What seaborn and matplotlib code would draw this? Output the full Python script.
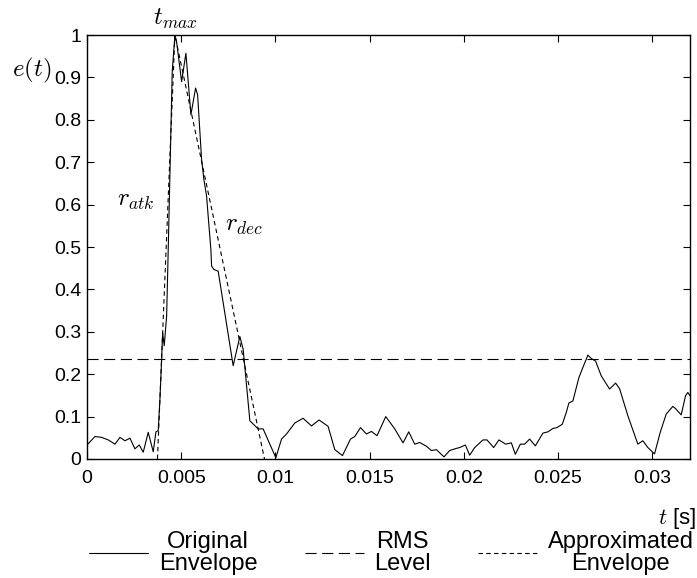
import numpy as np
import pandas as pd
import seaborn as sns
import matplotlib.pyplot as plt

# original envelope
t_env = [0.0, 0.000424, 0.000779, 0.001129, 0.001485, 0.00175, 0.002015, 0.00228,
         0.002545, 0.002773, 0.002985, 0.00325, 0.003515, 0.003659, 0.00378, 0.003871,
         0.003961, 0.004014, 0.004099, 0.004226, 0.004311, 0.004438, 0.004523, 0.004666,
         0.004756, 0.005021, 0.005249, 0.005514, 0.005763, 0.00587, 0.006082, 0.006204,
         0.006347, 0.006432, 0.006575, 0.006612, 0.006734, 0.006962, 0.007757, 0.008112,
         0.008287, 0.008643, 0.009083, 0.009348, 0.009703, 0.010021, 0.010323, 0.010589,
         0.011029, 0.011469, 0.011914, 0.012317, 0.012794, 0.013149, 0.013558, 0.013982,
         0.01421, 0.014512, 0.01483, 0.015095, 0.015392, 0.015854, 0.016331, 0.016771,
         0.017073, 0.017391, 0.017656, 0.018011, 0.018277, 0.018542, 0.018945, 0.019247,
         0.019602, 0.019777, 0.020079, 0.020307, 0.020573, 0.021013, 0.021225, 0.02158,
         0.021861, 0.022216, 0.022519, 0.02273, 0.022996, 0.023224, 0.023489, 0.023791,
         0.024194, 0.024459, 0.024724, 0.024936, 0.025223, 0.025435, 0.025572, 0.025785,
         0.026103, 0.026315, 0.02658, 0.02676, 0.026988, 0.02729, 0.02773, 0.028049,
         0.028261, 0.028701, 0.029231, 0.029496, 0.029762, 0.030117, 0.030419, 0.030737,
         0.031087, 0.03123, 0.031532, 0.03176, 0.031882, 0.032062]
e_env = [0.033, 0.053, 0.051, 0.045, 0.035, 0.051, 0.043, 0.049,
         0.024, 0.033, 0.016, 0.063, 0.017, 0.064, 0.067, 0.141,
         0.235, 0.298, 0.267, 0.337, 0.494, 0.745, 0.914, 1.0,
         0.984, 0.890, 0.957, 0.812, 0.875, 0.859, 0.706, 0.659,
         0.620, 0.572, 0.494, 0.455, 0.447, 0.443, 0.220, 0.289,
         0.259, 0.090, 0.071, 0.071, 0.035, 0.003, 0.047, 0.059,
         0.085, 0.096, 0.078, 0.092, 0.077, 0.022, 0.008, 0.047,
         0.053, 0.074, 0.059, 0.065, 0.055, 0.100, 0.071, 0.038,
         0.064, 0.035, 0.039, 0.030, 0.020, 0.022, 0.005, 0.020,
         0.025, 0.027, 0.033, 0.009, 0.027, 0.045, 0.045, 0.027,
         0.045, 0.035, 0.038, 0.011, 0.035, 0.035, 0.047, 0.031,
         0.061, 0.064, 0.072, 0.074, 0.082, 0.110, 0.132, 0.137,
         0.192, 0.216, 0.245, 0.237, 0.231, 0.196, 0.165, 0.179,
         0.166, 0.102, 0.035, 0.043, 0.027, 0.012, 0.063, 0.106,
         0.124, 0.119, 0.104, 0.149, 0.157, 0.145]

# rms level and triangle approximation
rms_level = 0.237
t_approx = [0.00374, 0.004666, 0.00942]
e_approx = [0.0, 1.0, 0.0]

x_ticks = [0, 0.005, 0.01, 0.015, 0.02, 0.025, 0.03]
x_labels = ["0", "0.005", "0.01", "0.015", "0.02", "0.025", "0.03"]
y_ticks = [0, 0.1, 0.2, 0.3, 0.4, 0.5, 0.6, 0.7, 0.8, 0.9, 1]
y_labels = ["0", "0.1", "0.2", "0.3", "0.4", "0.5", "0.6", "0.7", "0.8", "0.9", "1"]

sns.set_style("ticks")
plt.rcParams['font.family'] = ['Liberation Sans', 'DejaVu Sans']
plt.rcParams['mathtext.fontset'] = 'cm'
plt.rcParams['text.color'] = 'black'
plt.rcParams['axes.labelcolor'] = 'black'

fig = plt.figure(figsize=(6.97, 5.78), dpi=100)
ax = fig.add_axes([0.1248, 0.2059, 0.8652, 0.7335])

df = pd.DataFrame({"t": t_env, "e": e_env})
sns.lineplot(data=df, x="t", y="e", ax=ax, color="black", lw=0.8,
             estimator=None, label="Original\nEnvelope")
ax.axhline(rms_level, color="black", lw=0.8, ls=(0, (10, 5)), label="RMS\nLevel")
sns.lineplot(x=t_approx, y=e_approx, ax=ax, color="black", lw=0.8,
             ls=(0, (4, 3)), estimator=None, label="Approximated\nEnvelope")

ax.set_xlim(0, 0.032)
ax.set_ylim(0, 1)
ax.set_xticks(x_ticks)
ax.set_xticklabels(x_labels)
ax.set_yticks(y_ticks)
ax.set_yticklabels(y_labels)
ax.tick_params(direction="in", top=True, right=True, length=5, width=0.8,
               labelsize=14, colors="black")
ax.tick_params(axis="x", pad=8)
ax.tick_params(axis="y", pad=4)
for s in ax.spines.values():
    s.set_visible(True)
    s.set_linewidth(1.0)
    s.set_color("black")

ax.set_xlabel(r"$t$ [s]", fontsize=16, ha="right", va="center")
ax.xaxis.set_label_coords(1.01, -0.141)
ax.set_ylabel(r"$e(t)$", fontsize=18, rotation=0, ha="center", va="center")
ax.yaxis.set_label_coords(-0.091, 0.917)

ax.text(0.004666, 1.037, r"$t_{max}$", fontsize=18, ha="center", va="center", clip_on=False)
ax.text(0.00259, 0.612, r"$r_{atk}$", fontsize=18, ha="center", va="center")
ax.text(0.00836, 0.553, r"$r_{dec}$", fontsize=18, ha="center", va="center")

leg = ax.legend(loc="center left", bbox_to_anchor=(0.1142, 0.044),
                bbox_transform=fig.transFigure, ncol=3, frameon=False,
                fontsize=17, handlelength=2.5, handletextpad=0.45,
                columnspacing=2.0, borderaxespad=0)
for txt in leg.get_texts():
    txt.set_multialignment("center")
    txt.set_linespacing(1.0)
    txt.set_color("black")

fig.savefig("out.png", dpi=100)
